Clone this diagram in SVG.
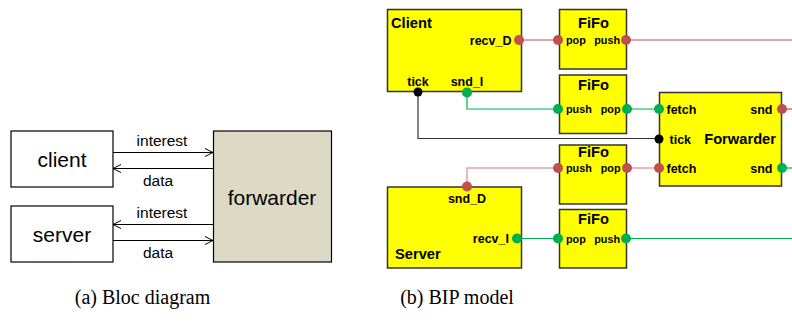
<svg xmlns="http://www.w3.org/2000/svg" width="792" height="322" viewBox="0 0 792 322">
<defs>
<marker id="chev" viewBox="0 0 10 10" refX="9" refY="5" markerWidth="10" markerHeight="10" markerUnits="userSpaceOnUse" orient="auto">
<path d="M1,1 L9,5 L1,9" fill="none" stroke="#000" stroke-width="1"/>
</marker>
</defs>
<style>
.wb{fill:#fff;stroke:#000;stroke-width:1.2}
.fw{fill:#DDD9C4;stroke:#000;stroke-width:1.2}
.big{font-family:"Liberation Sans",Arial,sans-serif;font-size:21px;fill:#000}
.sm{font-family:"Liberation Sans",Arial,sans-serif;font-size:15.5px;fill:#000}
.arr{stroke:#000;stroke-width:1;fill:none;marker-end:url(#chev)}
.yb{fill:#FFFF00;stroke:#333;stroke-width:1.5}
.t{font-family:"Liberation Sans",Arial,sans-serif;font-weight:bold;font-size:14.7px;fill:#000}
.p{font-family:"Liberation Sans",Arial,sans-serif;font-weight:bold;font-size:12.5px;fill:#000}
.pf{font-family:"Liberation Sans",Arial,sans-serif;font-weight:bold;font-size:10.8px;fill:#000}
.red{fill:#C0504D}
.grn{fill:#00B050}
.blk{fill:#000}
.lr{stroke:#C0504D;stroke-width:1.2;fill:none}
.lp{stroke:#E3A3A3;stroke-width:1.5;fill:none}
.lg{stroke:#00B050;stroke-width:1.2;fill:none}
.lk{stroke:#333;stroke-width:1.2;fill:none}
.cap{font-family:"Liberation Serif","Times New Roman",serif;font-size:20px;fill:#000}
</style>

<g id="connectors">
<line class="arr" x1="113" y1="152.5" x2="213" y2="152.5"/>
<line class="arr" x1="213" y1="168.5" x2="113" y2="168.5"/>
<line class="arr" x1="213" y1="224.5" x2="113" y2="224.5"/>
<line class="arr" x1="113" y1="240.5" x2="213" y2="240.5"/>
<polyline class="lr" points="519,40 558,40"/>
<polyline class="lr" points="626,40 792,40"/>
<polyline class="lg" points="467,92 467,109 558,109"/>
<polyline class="lg" points="626,109 659,109"/>
<polyline class="lk" points="418,92 418,138.5 659,138.5"/>
<polyline class="lp" points="467,186 467,168 558,168"/>
<polyline class="lp" points="627,168 659,168"/>
<polyline class="lr" points="782,109 792,109"/>
<polyline class="lg" points="782,168 792,168"/>
<polyline class="lg" points="521,238.5 558,238.5"/>
<polyline class="lg" points="626,238.5 792,238.5"/>
</g>

<g id="labels-a">
<text class="sm" x="162" y="146" text-anchor="middle">interest</text>
<text class="sm" x="158" y="186" text-anchor="middle">data</text>
<text class="sm" x="162" y="217.5" text-anchor="middle">interest</text>
<text class="sm" x="158" y="258" text-anchor="middle">data</text>
</g>

<g id="client-a">
<rect class="wb" x="11" y="131" width="102" height="56"/>
<text class="big" x="62" y="167" text-anchor="middle">client</text>
</g>
<g id="server-a">
<rect class="wb" x="11" y="206" width="102" height="56"/>
<text class="big" x="62" y="242" text-anchor="middle">server</text>
</g>
<g id="forwarder-a">
<rect class="fw" x="213.5" y="131" width="118" height="131"/>
<text class="big" x="272" y="204.5" text-anchor="middle">forwarder</text>
</g>

<g id="Client">
<rect class="yb" x="387.5" y="9.5" width="134" height="82"/>
<text class="t" x="391" y="27.5">Client</text>
<text class="p" x="511.5" y="44.5" text-anchor="end">recv_D</text>
<text class="p" x="418" y="86" text-anchor="middle">tick</text>
<text class="p" x="467" y="86" text-anchor="middle">snd_I</text>
<circle class="red" cx="519" cy="40" r="5"/>
<circle class="blk" cx="418" cy="92" r="4.5"/>
<circle class="grn" cx="467" cy="92.5" r="5"/>
</g>

<g id="FiFo1">
<rect class="yb" x="559.5" y="9.5" width="67" height="59.5"/>
<text class="t" x="593.5" y="28" text-anchor="middle">FiFo</text>
<text class="pf" x="566" y="44">pop</text>
<text class="pf" x="620" y="44" text-anchor="end">push</text>
<circle class="red" cx="558" cy="40" r="5"/>
<circle class="red" cx="626" cy="40" r="5"/>
</g>

<g id="FiFo2">
<rect class="yb" x="559.5" y="75" width="67" height="58.5"/>
<text class="t" x="593.5" y="90" text-anchor="middle">FiFo</text>
<text class="pf" x="566" y="113">push</text>
<text class="pf" x="620.5" y="113" text-anchor="end">pop</text>
<circle class="grn" cx="558" cy="109" r="5"/>
<circle class="grn" cx="627" cy="109" r="5"/>
</g>

<g id="Forwarder">
<rect class="yb" x="659.5" y="92.5" width="122" height="93.5"/>
<text class="t" x="776" y="144" text-anchor="end">Forwarder</text>
<text class="p" x="666.5" y="113.5">fetch</text>
<text class="p" x="669.5" y="144">tick</text>
<text class="p" x="666.5" y="172.5">fetch</text>
<text class="p" x="772.5" y="113.5" text-anchor="end">snd</text>
<text class="p" x="772.5" y="172.5" text-anchor="end">snd</text>
<circle class="grn" cx="659" cy="109" r="5"/>
<circle class="blk" cx="659" cy="139" r="4.5"/>
<circle class="red" cx="659" cy="168" r="5"/>
<circle class="red" cx="782" cy="109" r="5"/>
<circle class="grn" cx="782" cy="168" r="5"/>
</g>

<g id="FiFo3">
<rect class="yb" x="559.5" y="145" width="67" height="59"/>
<text class="t" x="593.5" y="157" text-anchor="middle">FiFo</text>
<text class="pf" x="566" y="172">push</text>
<text class="pf" x="620.5" y="172" text-anchor="end">pop</text>
<circle class="red" cx="558" cy="168" r="5"/>
<circle class="red" cx="627" cy="168" r="5"/>
</g>

<g id="Server">
<rect class="yb" x="387.5" y="187" width="134" height="81"/>
<text class="t" x="395" y="258.5">Server</text>
<text class="p" x="467" y="203" text-anchor="middle">snd_D</text>
<text class="p" x="509" y="243" text-anchor="end">recv_I</text>
<circle class="red" cx="467" cy="186.5" r="5"/>
<circle class="grn" cx="517" cy="238.5" r="5"/>
</g>

<g id="FiFo4">
<rect class="yb" x="559.5" y="209.5" width="67" height="58.5"/>
<text class="t" x="593.5" y="224" text-anchor="middle">FiFo</text>
<text class="pf" x="566" y="243">pop</text>
<text class="pf" x="620" y="243" text-anchor="end">push</text>
<circle class="grn" cx="558" cy="238.5" r="5"/>
<circle class="grn" cx="626" cy="238.5" r="5"/>
</g>

<g id="captions">
<text class="cap" x="142.5" y="303.5" text-anchor="middle">(a) Bloc diagram</text>
<text class="cap" x="457" y="303.5" text-anchor="middle">(b) BIP model</text>
</g>
</svg>
